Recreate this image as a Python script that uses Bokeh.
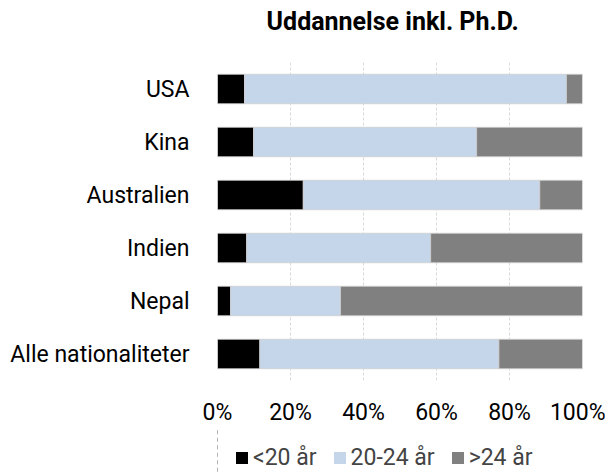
from bokeh.plotting import figure
from bokeh.layouts import column
from bokeh.models import (ColumnDataSource, Legend, LegendItem, FixedTicker, PrintfTickFormatter,
                          Range1d, FactorRange, Label)
from bokeh.embed import file_html
from bokeh.resources import INLINE

categories = ["USA", "Kina", "Australien", "Indien", "Nepal", "Alle nationaliteter"]
under20 = [7.4, 9.9, 23.5, 8.0, 3.6, 11.6]
mid20_24 = [88.2, 61.1, 64.8, 50.4, 30.1, 65.5]
over24 = [4.4, 29.0, 11.7, 41.6, 66.3, 22.9]
series_names = ["<20 år", "20-24 år", ">24 år"]
colors = ["#000000", "#C5D5EA", "#808080"]
ticks = [0, 20, 40, 60, 80, 100]
title_text = "Uddannelse inkl. Ph.D."

FONT = "Roboto"
FS = "23px"

source = ColumnDataSource(data=dict(cat=categories, a=under20, b=mid20_24, c=over24))

# title strip
tp = figure(width=605, height=40, output_backend="svg", toolbar_location=None,
            x_range=Range1d(0, 1), y_range=Range1d(0, 1), x_axis_type=None, y_axis_type=None,
            min_border=0)
tp.outline_line_color = None
tp.grid.grid_line_color = None
tp.add_layout(Label(x=0.48, y=0.47, text=title_text, text_align="center", text_baseline="middle",
                    text_font=FONT, text_font_size="25px", text_font_style="bold", text_color="#000000"))

# main chart
p = figure(width=605, height=388, output_backend="svg", toolbar_location=None,
           y_range=FactorRange(*reversed(categories)), x_range=Range1d(0, 100),
           min_border_left=217, min_border_right=23, min_border_top=22, min_border_bottom=42)

renderers = p.hbar_stack(["a", "b", "c"], y="cat", height=0.556, color=colors, source=source,
                         line_color="#d0d0d0", line_width=0.8)

p.outline_line_color = None
p.ygrid.grid_line_color = None
p.xgrid.grid_line_color = "#d9d9d9"
p.xgrid.grid_line_dash = "3 2"
p.xgrid.ticker = FixedTicker(ticks=ticks)

p.xaxis.ticker = FixedTicker(ticks=ticks)
p.xaxis.formatter = PrintfTickFormatter(format="%d%%")
p.xaxis.axis_line_color = None
p.xaxis.major_tick_line_color = None
p.xaxis.minor_tick_line_color = None
p.xaxis.major_label_text_font = FONT
p.xaxis.major_label_text_font_size = FS
p.xaxis.major_label_text_color = "#000000"
p.xaxis.major_label_standoff = 12

p.yaxis.axis_line_color = None
p.yaxis.major_tick_line_color = None
p.yaxis.minor_tick_line_color = None
p.yaxis.major_label_text_font = FONT
p.yaxis.major_label_text_font_size = FS
p.yaxis.major_label_text_color = "#000000"
p.yaxis.major_label_standoff = 22

# legend strip below the chart (key renderers share the data but fall outside the strip's view)
lp = figure(width=605, height=45, output_backend="svg", toolbar_location=None,
            x_range=Range1d(101, 102), y_range=FactorRange(*reversed(categories)),
            x_axis_type=None, y_axis_type=None, min_border=0)
lp.outline_line_color = None
lp.grid.grid_line_color = None
key_renderers = lp.hbar_stack(["a", "b", "c"], y="cat", height=0.556, color=colors, source=source,
                              line_color=None)

legend = Legend(items=[LegendItem(label=n, renderers=[r]) for n, r in zip(series_names, key_renderers)],
                orientation="horizontal", location=(17, 2), border_line_color=None,
                background_fill_alpha=0, label_text_font=FONT, label_text_font_size=FS,
                glyph_width=15, glyph_height=15, spacing=15, label_standoff=4, padding=0, margin=0)
lp.add_layout(legend, "center")

layout = column(tp, p, lp, spacing=0)
open("out.html", "w").write(file_html(layout, INLINE))
